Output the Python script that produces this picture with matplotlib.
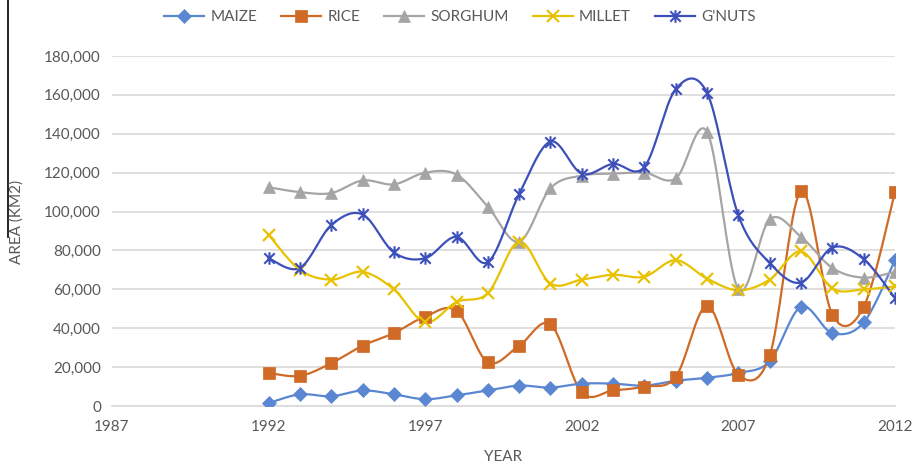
import numpy as np
import matplotlib
matplotlib.use("Agg")
import matplotlib.pyplot as plt
from matplotlib.lines import Line2D
from matplotlib.path import Path
from matplotlib.ticker import FuncFormatter

plt.rcParams['font.family'] = ['Lato', 'DejaVu Sans']

# crop area by year (km2)
years = list(range(1992, 2013))
maize = [1500, 6000, 5000, 8000, 6000, 3500, 5500, 8000, 10500, 9500, 11500,
         11500, 10500, 13000, 14500, 17000, 23000, 51000, 37500, 43000, 75000]
rice = [17000, 15500, 22000, 31000, 37500, 46000, 49000, 22500, 31000, 42000, 7000,
        8000, 10000, 15000, 51500, 16000, 26000, 110500, 47000, 51000, 110000]
sorghum = [112500, 110000, 109500, 116000, 114000, 120000, 119000, 102500, 84500, 112000, 118500,
           119500, 120000, 117000, 141000, 60000, 96000, 87000, 71000, 66000, 69000]
millet = [88000, 70000, 65000, 69000, 60000, 43000, 53500, 58000, 84500, 63000, 65000,
          67500, 66500, 75000, 65500, 59500, 65000, 79500, 60500, 60000, 61500]
gnuts = [76000, 71000, 93000, 98500, 79000, 76000, 87000, 74000, 109000, 136000, 119500,
         124500, 123000, 163000, 161000, 98000, 73500, 63500, 81500, 75500, 55500]

x_ticks = [1987, 1992, 1997, 2002, 2007, 2012]

# asterisk marker: an X crossed by a vertical stroke
star_marker = Path(
    [(-1, -1), (1, 1), (-1, 1), (1, -1), (0, -1.2), (0, 1.2)],
    [Path.MOVETO, Path.LINETO, Path.MOVETO, Path.LINETO, Path.MOVETO, Path.LINETO],
)


def smooth(xs, ys, n=20):
    """Catmull-Rom style bezier smoothing through every point."""
    xs = np.asarray(xs, float)
    ys = np.asarray(ys, float)
    pts = np.column_stack([xs, ys])
    out = [pts[0]]
    t = np.linspace(0, 1, n)[1:]
    for i in range(len(pts) - 1):
        p0 = pts[max(i - 1, 0)]
        p1 = pts[i]
        p2 = pts[i + 1]
        p3 = pts[min(i + 2, len(pts) - 1)]
        c1 = p1 + (p2 - p0) / 6
        c2 = p2 - (p3 - p1) / 6
        seg = ((1 - t) ** 3)[:, None] * p1 + (3 * (1 - t) ** 2 * t)[:, None] * c1 \
            + (3 * (1 - t) * t ** 2)[:, None] * c2 + (t ** 3)[:, None] * p2
        out.extend(seg)
    out = np.array(out)
    return out[:, 0], out[:, 1]


series = [
    ("MAIZE", maize, "#5B87D2", "D", 7, 0.5),
    ("RICE", rice, "#CF6A27", "s", 9, 0.5),
    ("SORGHUM", sorghum, "#A5A5A5", "^", 9, 0.5),
    ("MILLET", millet, "#E8C200", "x", 8, 1.6),
    ("G'NUTS", gnuts, "#3D50BA", star_marker, 9, 1.5),
]

fig = plt.figure(figsize=(9.13, 4.68), dpi=100)
ax = fig.add_axes([112 / 913, 62 / 468, 783 / 913, 350 / 468])

handles = []
for name, vals, color, marker, ms, mew in series:
    sx, sy = smooth(years, vals)
    ax.plot(sx, sy, color=color, lw=1.6, zorder=3)
    ax.plot(years, vals, ls="none", marker=marker, ms=ms, color=color,
            mec=color, mew=mew, zorder=4)
    handles.append(Line2D([], [], color=color, lw=1.6, marker=marker, ms=ms,
                          mec=color, mew=mew, label=name))

ax.set_xlim(1987, 2012)
ax.set_ylim(0, 180000)
ax.set_xticks(x_ticks)
ax.set_yticks(range(0, 180001, 20000))
ax.yaxis.set_major_formatter(FuncFormatter(lambda v, p: f"{int(v):,}"))
ax.grid(axis="y", color="#D9D9D9", lw=1.2)
ax.set_axisbelow(True)
for s in ("top", "right", "left"):
    ax.spines[s].set_visible(False)
ax.spines["bottom"].set_color("#D9D9D9")
ax.spines["bottom"].set_linewidth(1.2)
ax.tick_params(length=0, labelsize=11, colors="#595959", pad=10)
ax.tick_params(axis="y", pad=8)

fig.text(503 / 913, 1 - 457 / 468, "YEAR", ha="center", va="center",
         fontsize=11, color="#595959")
fig.text(17 / 913, 1 - 222 / 468, "AREA (KM2)", ha="center", va="center",
         rotation=90, fontsize=11, color="#595959")

fig.legend(handles=handles, loc="center", bbox_to_anchor=(460 / 913, 1 - 17 / 468),
           ncol=5, frameon=False, fontsize=11, handlelength=2.6,
           columnspacing=1.6, handletextpad=0.4, labelcolor="#595959")

# left frame edge
fig.add_artist(Line2D([8 / 913, 8 / 913], [1, 1 - 237 / 468], color="black", lw=1.2))

fig.savefig("out.png", dpi=100)
